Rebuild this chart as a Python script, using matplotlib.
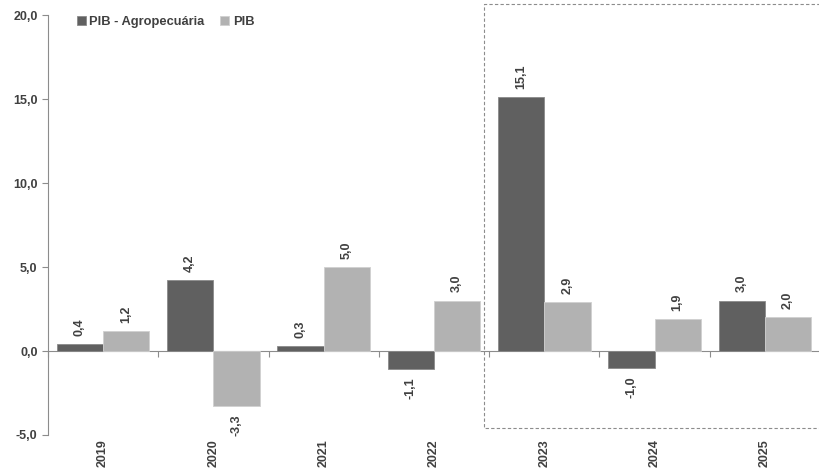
import matplotlib.pyplot as plt
import numpy as np
from matplotlib.transforms import blended_transform_factory

plt.rcParams["font.family"] = ["Liberation Sans", "DejaVu Sans"]
plt.rcParams["font.weight"] = "bold"

years = ["2019", "2020", "2021", "2022", "2023", "2024", "2025"]
pib_agro = [0.4, 4.2, 0.3, -1.1, 15.1, -1.0, 3.0]
pib = [1.2, -3.3, 5.0, 3.0, 2.9, 1.9, 2.0]
series_names = ["PIB - Agropecuária", "PIB"]

DARK = "#606060"
LIGHT = "#b2b2b2"
TXT = "#404040"
AXC = "#8c8c8c"


def fmt(v):
    return f"{v:.1f}".replace(".", ",")


fig = plt.figure(figsize=(8.2, 4.74), dpi=100)
ax = fig.add_axes([0.0585, 0.0823, 0.9415, 0.8857])

x = np.arange(len(years))
w = 0.42
b1 = ax.bar(x - w / 2, pib_agro, w, color=DARK, edgecolor="#8a8a8a", linewidth=0.6,
            label=series_names[0], zorder=3)
b2 = ax.bar(x + w / 2, pib, w, color=LIGHT, edgecolor="#d0d0d0", linewidth=0.6,
            label=series_names[1], zorder=3)

for bars, vals in [(b1, pib_agro), (b2, pib)]:
    for r, v in zip(bars, vals):
        cx = r.get_x() + r.get_width() / 2
        if v >= 0:
            ax.annotate(fmt(v), (cx, v), xytext=(0, 6), textcoords="offset points",
                        rotation=90, ha="center", va="bottom", fontsize=9,
                        color=TXT, fontweight="bold")
        else:
            ax.annotate(fmt(v), (cx, v), xytext=(0, -6), textcoords="offset points",
                        rotation=90, ha="center", va="top", fontsize=9,
                        color=TXT, fontweight="bold")

ax.set_xlim(-0.5, len(years) - 0.5)
ax.set_ylim(-5, 20)
ax.set_yticks(np.arange(-5, 21, 5))
ax.set_yticklabels([fmt(v) for v in np.arange(-5, 21, 5)], fontsize=9,
                   fontweight="bold", color=TXT)
ax.tick_params(axis="y", length=4, color=AXC, width=0.8)

for s in ["top", "right"]:
    ax.spines[s].set_visible(False)
ax.spines["left"].set_color(AXC)
ax.spines["bottom"].set_color(AXC)
ax.spines["bottom"].set_position(("data", 0))

ax.set_xticks(np.arange(len(years) + 1) - 0.5)
ax.set_xticklabels([])
ax.tick_params(axis="x", length=4, color=AXC, width=0.8, direction="out")

tr = blended_transform_factory(ax.transData, ax.transAxes)
for i, yr in enumerate(years):
    ax.text(i, -0.01, yr, transform=tr, rotation=90, ha="center", va="top",
            fontsize=9, fontweight="bold", color=TXT)

# dashed frame around the projection years (open on the right, runs off the figure)
x0, x1 = 3.45, 7.0
y0, y1 = -4.58, 20.65
ax.plot([x1, x0, x0, x1], [y1, y1, y0, y0], linestyle=(0, (3, 2)), color=AXC,
        linewidth=0.8, clip_on=False, zorder=1)

leg = ax.legend(loc="upper left", bbox_to_anchor=(0.022, 1.025), ncol=2, frameon=False,
                handlelength=0.7, handleheight=0.7, handletextpad=0.3,
                columnspacing=1.2, prop={"size": 9.3, "weight": "bold"})
for t in leg.get_texts():
    t.set_color(TXT)

fig.savefig("out.png", dpi=100)
